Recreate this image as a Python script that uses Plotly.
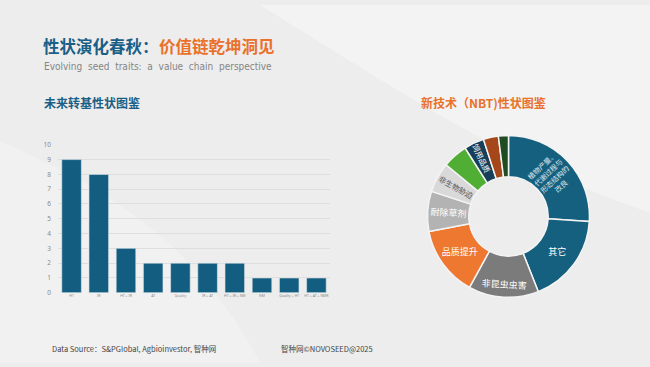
import plotly.graph_objects as go

# ---- data ----
bar_categories = ["HT", "IR", "HT + IR", "AT", "Quality", "IR + AT", "HT + IR + NM", "NM", "Quality + HT", "HT + AT + NMR"]
bar_values = [9, 8, 3, 2, 2, 2, 2, 1, 1, 1]
y_ticks = [0, 1, 2, 3, 4, 5, 6, 7, 8, 9, 10]

pie_labels = ["植物产量、代谢过程与形态结构的改良", "其它", "非昆虫虫害", "品质提升", "耐除草剂",
              "非生物胁迫", "抗虫", "饲用品质", "抗病", "其他性状"]
pie_values = [26, 18, 14, 14, 8, 6, 5, 4, 3, 2]
pie_text = ["植物产量、<br>代谢过程与<br>形态结构的<br>改良", "其它", "非昆虫虫害", "品质提升", "耐除草剂",
            "非生物胁迫", "", "饲用品质", "", ""]
pie_colors = ["#15607f", "#15607f", "#7b7b7b", "#ee7830", "#b3b3b3",
              "#d9d9d9", "#4fae33", "#173f59", "#a5471b", "#1f4c22"]
pie_text_colors = ["#dfe8ee", "#ffffff", "#ffffff", "#ffffff", "#ffffff",
                   "#555555", "#ffffff", "#ffffff", "#ffffff", "#ffffff"]

BLUE = "#1b5f86"
ORANGE = "#e9712b"

fig = go.Figure()

fig.add_trace(go.Bar(
    x=bar_categories, y=bar_values,
    marker=dict(color="#135d80", line=dict(color="#dfe6ea", width=0.6)),
    xaxis="x", yaxis="y", showlegend=False, hoverinfo="x+y"
))

fig.add_trace(go.Pie(
    labels=pie_labels, values=pie_values, text=pie_text,
    textinfo="text", textposition="inside", sort=False, direction="clockwise", rotation=0,
    hole=0.49,
    marker=dict(colors=pie_colors, line=dict(color="#f4f4f4", width=1.5)),
    insidetextfont=dict(family="Noto Sans CJK SC", size=9, color=pie_text_colors),
    insidetextorientation="auto",
    domain=dict(x=[0.6546, 0.91], y=[0.1834, 0.6357]),
    showlegend=False
))

W, H = 650, 367
def ann(text, x, y, size, color, family="Noto Sans CJK SC", xanchor="left"):
    return dict(text=text, x=x / W, y=1 - y / H, xref="paper", yref="paper",
                xanchor=xanchor, yanchor="middle", showarrow=False,
                font=dict(family=family, size=size, color=color))

fig.update_layout(
    width=650, height=367,
    margin=dict(l=0, r=0, t=0, b=0),
    paper_bgcolor="#ededed",
    plot_bgcolor="rgba(0,0,0,0)",
    bargap=0.28,
    xaxis=dict(domain=[0.0892, 0.5077], showgrid=False, zeroline=False, showline=False,
               tickfont=dict(family="Noto Sans", size=3.5, color="#8a8a8a"), ticks="",
               tickangle=0, fixedrange=True),
    yaxis=dict(domain=[0.1962, 0.6095], range=[0, 10], tickvals=y_ticks,
               showgrid=True, gridcolor="#dedede", gridwidth=0.8, zeroline=False,
               tickfont=dict(family="Noto Sans", size=6.5, color="#8a8a8a"), ticks="",
               ticklabelstandoff=6, fixedrange=True),
    shapes=[
        dict(type="path", xref="paper", yref="paper",
             path="M 0.40 1 C 0.58 0.8, 0.78 0.55, 1 0.42 L 1 1 Z",
             fillcolor="rgba(255,255,255,0.35)", line=dict(width=0), layer="below"),
        dict(type="path", xref="paper", yref="paper",
             path="M 0.0 0.62 C 0.15 0.5, 0.3 0.35, 0.4 0.0 L 0.0 0.0 Z",
             fillcolor="rgba(255,255,255,0.22)", line=dict(width=0), layer="below"),
    ],
    annotations=[
        ann("<b>性状演化春秋：</b>", 41, 42, 16.5, BLUE),
        ann("<b>价值链乾坤洞见</b>", 157, 42, 16.5, ORANGE),
        ann("Evolving  seed  traits:  a  value  chain  perspective", 42, 63, 10, "#858585",
            family="DejaVu Sans Condensed"),
        ann("<b>未来转基性状图鉴</b>", 42, 100, 12, BLUE),
        ann("<b>新技术（NBT)性状图鉴</b>", 419, 100, 12, ORANGE),
        ann("Data Source：S&PGlobal, Agbioinvestor, 智种网", 50, 352, 7.5, "#444444"),
        ann("智种网©NOVOSEED@2025", 279, 352, 7.5, "#444444"),
    ],
)

fig.write_html("out.html", config={"displayModeBar": False},
               post_script="document.body.style.margin='0';document.body.style.overflow='hidden';")
